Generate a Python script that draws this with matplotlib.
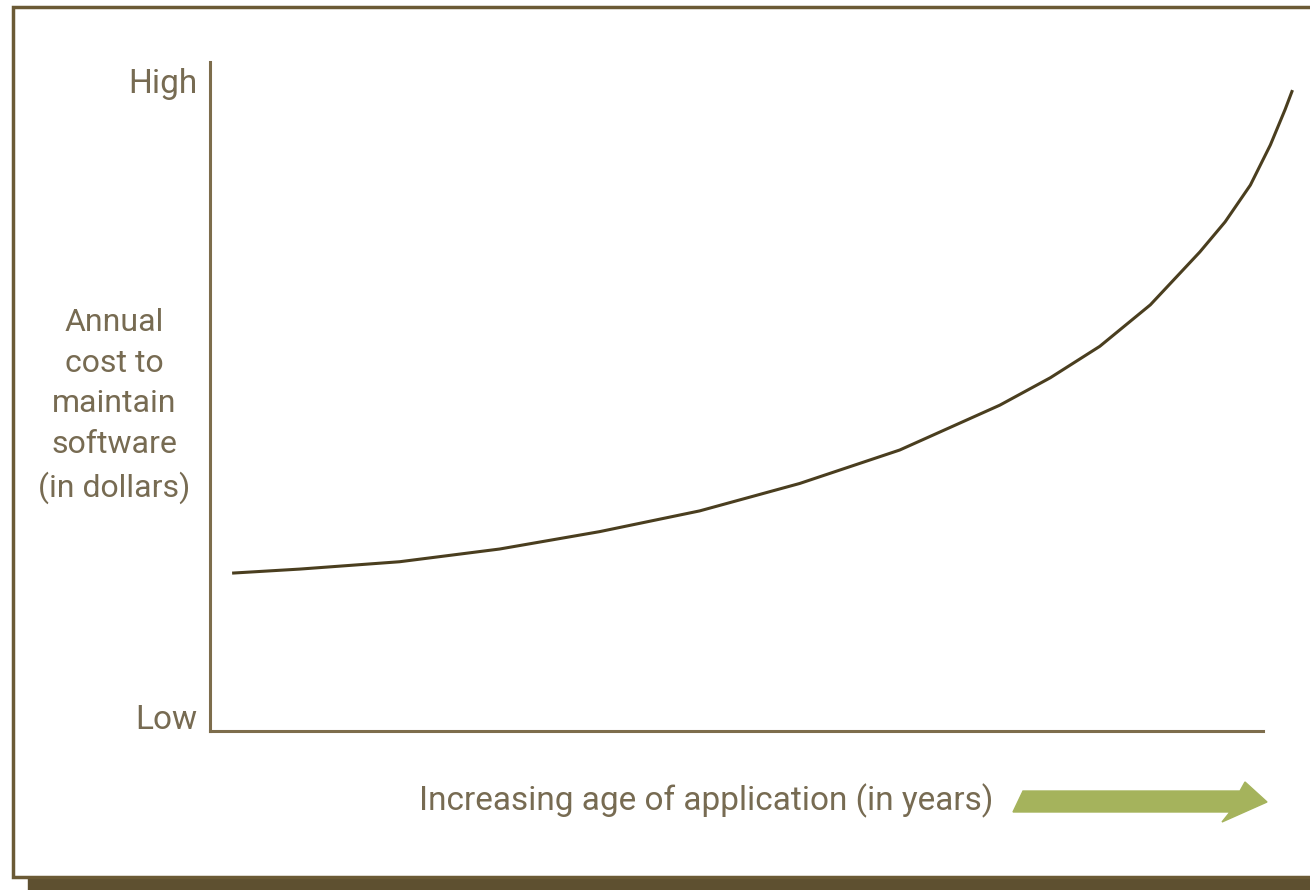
import matplotlib
matplotlib.use("Agg")
import matplotlib.pyplot as plt
from matplotlib.patches import Rectangle, Polygon

# Curve: age on a 0-10 scale, cost on a 0 (Low) - 1 (High) scale
age = [0.21, 0.85, 1.80, 2.75, 3.70, 4.65, 5.60, 6.55, 7.50, 7.98,
       8.45, 8.93, 9.40, 9.64, 9.88, 10.07, 10.21, 10.28]
cost = [0.236, 0.242, 0.253, 0.272, 0.298, 0.329, 0.370, 0.420, 0.487, 0.528,
        0.575, 0.637, 0.716, 0.761, 0.816, 0.876, 0.929, 0.958]

level_ticks = [0.022, 0.973]
level_labels = ["Low", "High"]

y_label = "Annual\ncost to\nmaintain\nsoftware\n(in dollars)"
x_label = "Increasing age of application (in years)"

frame_col = "#6b5a35"
shadow_col = "#5e5030"
axis_col = "#7d6d4c"
curve_col = "#4a3e1f"
text_col = "#776b52"
arrow_col = "#a5b35c"

W, H = 1310, 890
fig = plt.figure(figsize=(W / 100, H / 100), dpi=100)
fig.patch.set_facecolor("white")
plt.rcParams["font.family"] = ["Roboto", "DejaVu Sans"]

# outer frame and bottom shadow (pixel coordinates, decoration only)
px = lambda x, y: (x / W, 1 - y / H)
fig.patches.append(Rectangle(px(28, 890), (W - 28) / W, 13 / H,
                             transform=fig.transFigure, color=shadow_col, zorder=0))
fig.patches.append(Rectangle(px(13, 877), (W + 10 - 13) / W, 870 / H,
                             transform=fig.transFigure, facecolor="white",
                             edgecolor=frame_col, linewidth=2.5, zorder=1))

ax = fig.add_axes([210 / W, (H - 731) / H, 1053 / W, (731 - 62) / H])
ax.set_facecolor("none")
ax.set_zorder(2)
ax.set_xlim(0, 10)
ax.set_ylim(0, 1)
for side in ("top", "right"):
    ax.spines[side].set_visible(False)
for side in ("left", "bottom"):
    ax.spines[side].set_color(axis_col)
    ax.spines[side].set_linewidth(2.2)

ax.plot(age, cost, color=curve_col, linewidth=2.2, clip_on=False,
        solid_capstyle="butt", solid_joinstyle="round")

ax.set_xticks([])
ax.set_yticks(level_ticks)
ax.set_yticklabels(level_labels, fontsize=24, color=text_col)
ax.tick_params(axis="y", length=0, pad=9)

fig.text(114 / W, 1 - 406 / H, y_label, ha="center", va="center",
         fontsize=23, color=text_col, linespacing=1.5)
fig.text(706 / W, 1 - 801 / H, x_label, ha="center", va="center",
         fontsize=24, color=text_col)

# green arrow
arrow = [(1013, 812), (1023, 791), (1240, 791), (1245, 782), (1267, 802),
         (1222, 822), (1230, 812)]
fig.patches.append(Polygon([px(x, y) for x, y in arrow], closed=True,
                           transform=fig.transFigure, color=arrow_col, zorder=3))

fig.savefig("out.png", dpi=100)
